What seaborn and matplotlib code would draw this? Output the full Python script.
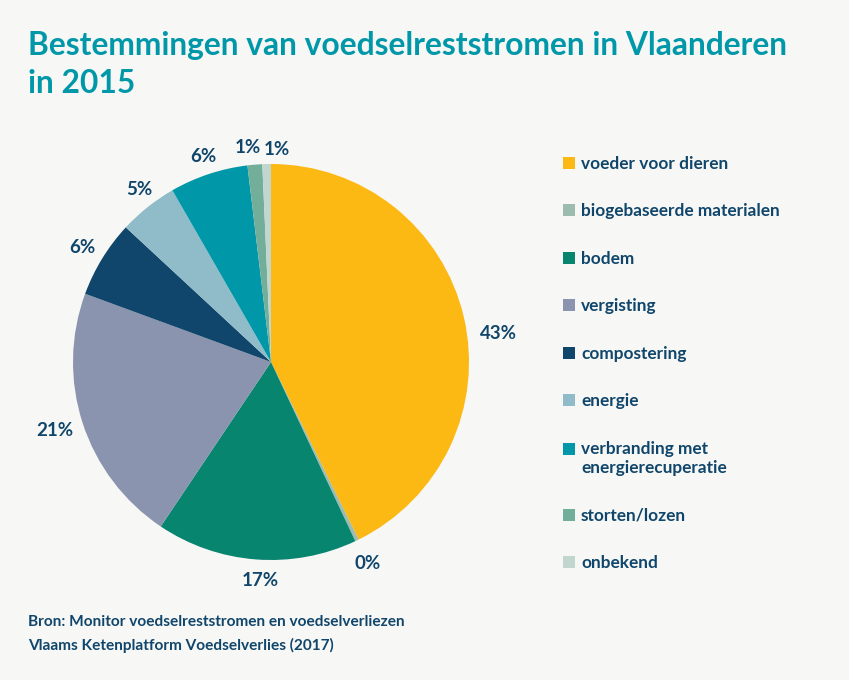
import matplotlib
matplotlib.use('Agg')
import matplotlib.pyplot as plt
from matplotlib.patches import Patch
import seaborn as sns
import numpy as np

categories = ['voeder voor dieren', 'biogebaseerde materialen', 'bodem', 'vergisting', 'compostering',
              'energie', 'verbranding met\nenergierecuperatie', 'storten/lozen', 'onbekend']
values = [42.7, 0.3, 16.4, 21.2, 6.3, 4.8, 6.4, 1.2, 0.7]
value_labels = ['43%', '0%', '17%', '21%', '6%', '5%', '6%', '1%', '1%']
colors = ['#FDB913', '#9DBCB0', '#07856F', '#8A94AE', '#10466B', '#90BCCA', '#0098A9', '#73AE9B', '#C0D6CF']

sns.set_theme(style='white')
plt.rcParams['font.family'] = ['Lato', 'DejaVu Sans']

W, H = 849, 680
bg = '#F7F7F5'
navy = '#10466B'
teal = '#0098A9'

fig = plt.figure(figsize=(W / 100, H / 100), dpi=100, facecolor=bg)

# pie centre 271,362 radius 198 (pixels of the reference)
cx, cy, r = 271, 362, 198
ax = fig.add_axes([(cx - r) / W, 1 - (cy + r) / H, 2 * r / W, 2 * r / H])
wedges, _ = ax.pie(values, colors=colors, startangle=90, counterclock=False, radius=1,
                   wedgeprops={'linewidth': 0})
ax.set_xlim(-1, 1)
ax.set_ylim(-1, 1)
ax.set_aspect('equal')

# label distance per wedge, then a nudge since the labels were placed by hand in the original
label_dist = [1.15, 1.12, 1.10, 1.15, 1.11, 1.10, 1.10, 1.09, 1.09]
nudge_x = [0.03, 0.0, 0.03, 0, -0.005, 0.02, 0.005, -0.03, 0.055]
nudge_y = [-0.12, -0.01, -0.005, 0.01, 0, 0.01, -0.005, -0.005, -0.015]
for w, txt, d, nx, ny in zip(wedges, value_labels, label_dist, nudge_x, nudge_y):
    mid = np.deg2rad((w.theta1 + w.theta2) / 2)
    ax.text(d * np.cos(mid) + nx, d * np.sin(mid) + ny, txt, ha='center', va='center',
            fontsize=13.5, fontweight='bold', color=navy, clip_on=False)

handles = [Patch(facecolor=c, edgecolor='none') for c in colors]
leg = fig.legend(handles, categories, loc='upper left', bbox_to_anchor=(563 / W, 1 - 156 / H),
                 frameon=False, labelspacing=1.825,
                 handlelength=0.68, handleheight=0.68, handletextpad=0.36,
                 borderpad=0, borderaxespad=0, prop={'weight': 'bold', 'size': 12.4})
for t in leg.get_texts():
    t.set_color(navy)
    t.set_linespacing(1.3)
# square of the two line entry goes with its first line
h = leg.legend_handles[6]
h.set_y(h.get_y() + 7.2)

for label, y in [('Bestemmingen van voedselreststromen in Vlaanderen', 55), ('in 2015', 93)]:
    fig.text(28 / W, 1 - y / H, label, fontsize=22.9, fontweight='bold', color=teal,
             ha='left', va='baseline')
for label, y in [('Bron: Monitor voedselreststromen en voedselverliezen', 626),
                 ('Vlaams Ketenplatform Voedselverlies (2017)', 650)]:
    fig.text(28 / W, 1 - y / H, label, fontsize=11.1, fontweight='bold', color=navy,
             ha='left', va='baseline')

fig.savefig('out.png', dpi=100, facecolor=bg)
